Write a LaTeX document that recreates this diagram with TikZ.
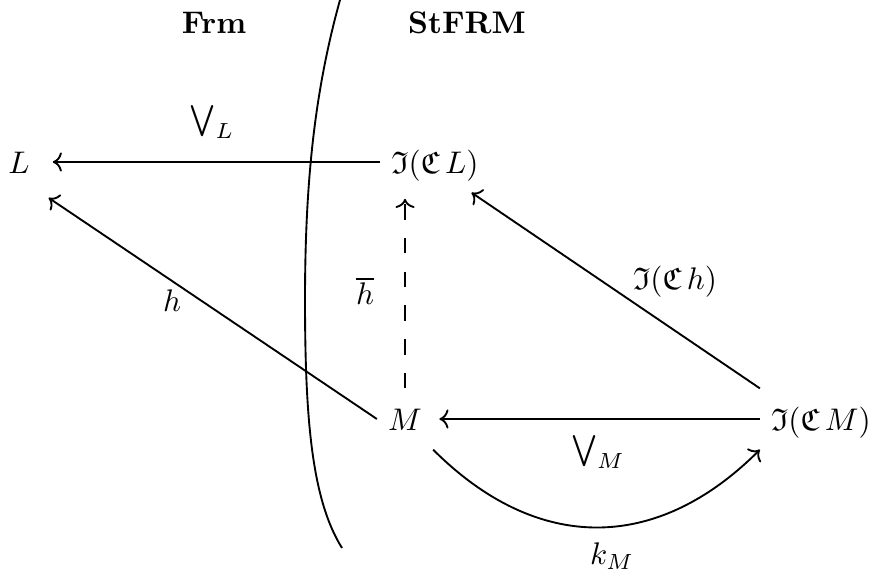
\documentclass[tikz,border=0pt]{standalone}
\usepackage{amssymb}
\usetikzlibrary{arrows.meta}
\begin{document}
\begin{tikzpicture}[x=0.32pt,y=-0.32pt, line width=0.6pt, >={To},
  obj/.style={inner sep=3.3pt, text height=10pt, text depth=2.4pt},
  lbl/.style={inner sep=0pt},
  dsh/.style={dash pattern=on 5pt off 5.8pt}]
\useasboundingbox (0,0) rectangle (880,578);
% objects
\node[obj] (L) at (19,162) {$L$};
\node[obj] (ICL) at (435,162) {$\mathfrak{I}(\mathfrak{C}\,L)$};
\node[obj] (M) at (405,419) {$M$};
\node[obj] (ICM) at (821,419) {$\mathfrak{I}(\mathfrak{C}\,M)$};
% headings
\node[lbl] (frm) at (214,23) {\textbf{Frm}};
\node[lbl] (st) at (467,23) {\textbf{StFRM}};
% separator
\draw (340,0) .. controls (315,90) and (305,180) .. (305,300)
              .. controls (305,420) and (312,500) .. (342,548);
% arrows
\draw[->, shorten >=3.8pt] (ICL.west) -- (L.east);
\draw[->, shorten >=2pt] (ICM.west) -- (M.east);
\draw[->, shorten >=3pt] (M.west) -- (L.south east);
\draw[->] (ICM.north west) -- (ICL.-40);
\draw[->, dsh, shorten >=2pt] (M.north) -- (M.north |- ICL.south);
\draw[->] (M.south east) to[out=-45,in=-135,looseness=1.15] (ICM.south west);
% labels
\node[lbl] (lL) at (212,122) {$\bigvee_L$};
\node[lbl] (lh) at (172,301) {$h$};
\node[lbl] (lhb) at (365,291) {$\overline{h}$};
\node[lbl] (lIh) at (675,282) {$\mathfrak{I}(\mathfrak{C}\,h)$};
\node[lbl] (lM) at (598,452) {$\bigvee_M$};
\node[lbl] (lk) at (612,556) {$k_M$};
\end{tikzpicture}
\end{document}
